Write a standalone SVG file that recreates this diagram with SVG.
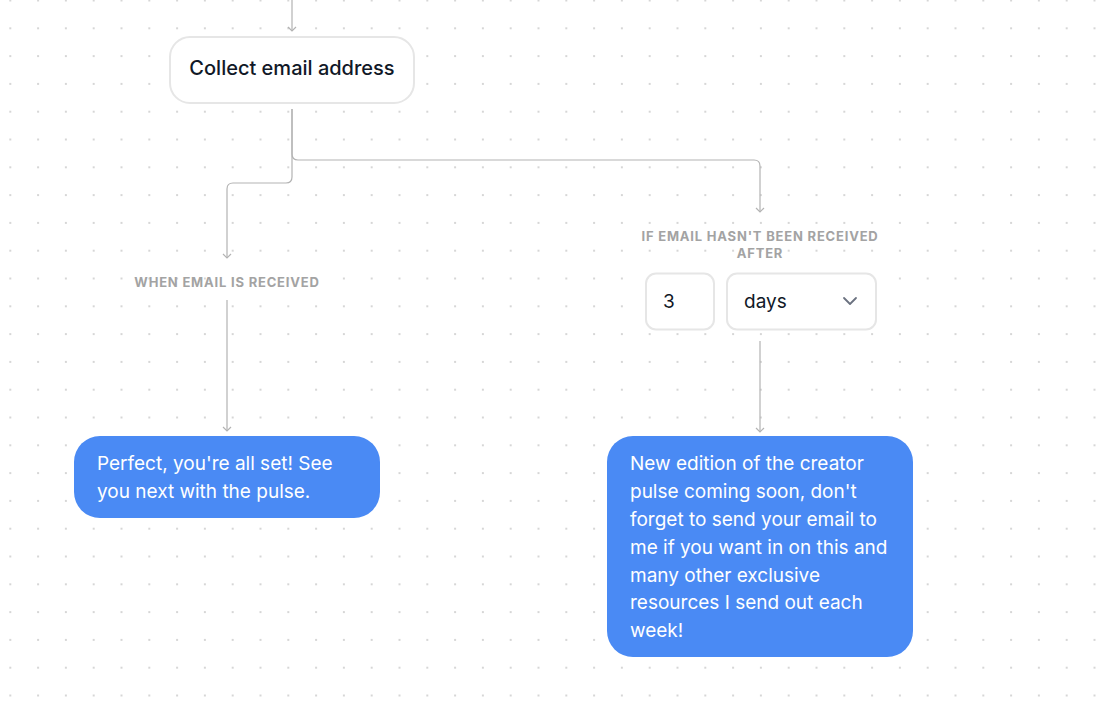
<svg xmlns="http://www.w3.org/2000/svg" width="1098" height="704" viewBox="0 0 1098 704">
<defs>
<pattern id="dots" patternUnits="userSpaceOnUse" x="-3.6" y="-13.4" width="27.8" height="27.8">
<circle cx="13.9" cy="13.9" r="0.9" fill="#c4c4c4"/>
</pattern>
<marker id="arr" viewBox="0 0 10 10" refX="9" refY="5" markerWidth="10" markerHeight="10" markerUnits="userSpaceOnUse" orient="auto">
<path d="M5,1 L9,5 L5,9" fill="none" stroke="#b3b3b3" stroke-width="1.2"/>
</marker>
</defs>
<style>
.conn{fill:none;stroke:#b3b3b3;stroke-width:1.2}
.box{fill:#ffffff;stroke:#e6e6e6;stroke-width:2}
.bubble{fill:#4a8af4}
.lbl{font-family:Inter,"Liberation Sans",sans-serif;font-size:13px;font-weight:700;fill:#a3a3a3;letter-spacing:0.8px;text-anchor:middle}
.bt{font-family:Inter,"Liberation Sans",sans-serif;font-size:19px;fill:#ffffff}
.dark{font-family:Inter,"Liberation Sans",sans-serif;fill:#111827}
</style>
<rect width="1098" height="704" fill="#ffffff"/>
<rect width="1098" height="704" fill="url(#dots)"/>
<g id="connectors">
<path class="conn" d="M292,0 V31" marker-end="url(#arr)"/>
<path class="conn" d="M292,109 V177 Q292,183 286,183 H233 Q227,183 227,189 V258" marker-end="url(#arr)"/>
<path class="conn" d="M292,109 V154 Q292,160 298,160 H754 Q760,160 760,166 V212" marker-end="url(#arr)"/>
<path class="conn" d="M227,300 V431" marker-end="url(#arr)"/>
<path class="conn" d="M760,341 V432" marker-end="url(#arr)"/>
</g>
<g id="collect">
<rect class="box" x="170" y="37" width="244" height="66" rx="20"/>
<text class="dark" x="292" y="75" font-size="20" font-weight="500" text-anchor="middle">Collect email address</text>
</g>
<g id="label-received">
<text class="lbl" x="227" y="287">WHEN EMAIL IS RECEIVED</text>
</g>
<g id="label-not-received">
<text class="lbl" x="760" y="241">IF EMAIL HASN'T BEEN RECEIVED</text>
<text class="lbl" x="760" y="258">AFTER</text>
</g>
<g id="delay-number">
<rect class="box" x="646" y="273.5" width="68" height="56" rx="10" stroke-width="1.5"/>
<text class="dark" x="663" y="308" font-size="19">3</text>
</g>
<g id="delay-unit">
<rect class="box" x="727" y="273.5" width="149" height="56" rx="10" stroke-width="1.5"/>
<text class="dark" x="744" y="308" font-size="19">days</text>
<path d="M844,298 L850,304 L856,298" fill="none" stroke="#6b7280" stroke-width="1.8" stroke-linecap="round" stroke-linejoin="round"/>
</g>
<g id="msg-received">
<rect class="bubble" x="74" y="436" width="306" height="82" rx="26"/>
<text class="bt" x="97" y="470">Perfect, you're all set! See</text>
<text class="bt" x="97" y="498">you next with the pulse.</text>
</g>
<g id="msg-reminder">
<rect class="bubble" x="607" y="436" width="306" height="221" rx="26"/>
<text class="bt" x="630" y="470">New edition of the creator</text>
<text class="bt" x="630" y="498">pulse coming soon, don't</text>
<text class="bt" x="630" y="526">forget to send your email to</text>
<text class="bt" x="630" y="554">me if you want in on this and</text>
<text class="bt" x="630" y="582">many other exclusive</text>
<text class="bt" x="630" y="609">resources I send out each</text>
<text class="bt" x="630" y="637">week!</text>
</g>
</svg>
